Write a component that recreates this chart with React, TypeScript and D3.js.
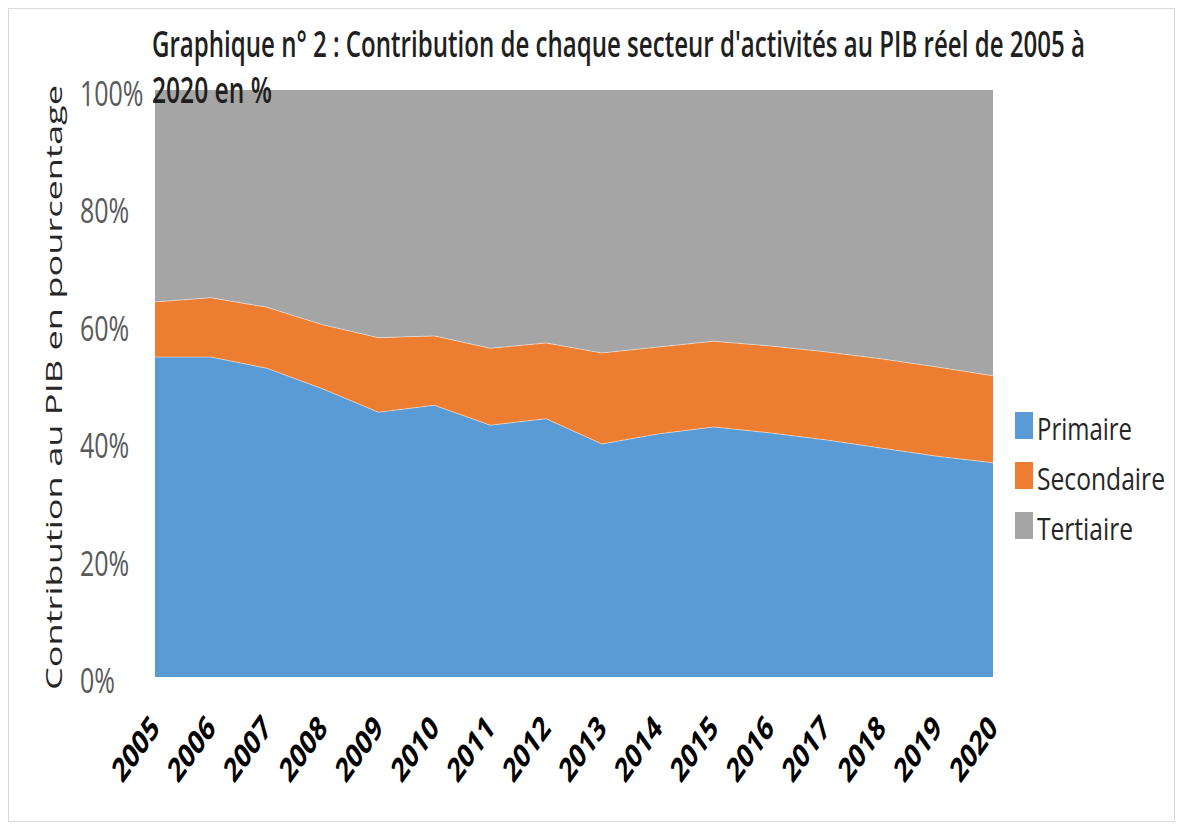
import * as d3 from "d3";
import React from 'react'

// values (%, stacked to 100)
const years = [2005, 2006, 2007, 2008, 2009, 2010, 2011, 2012, 2013, 2014, 2015, 2016, 2017, 2018, 2019, 2020]
const primaire = [54.5, 54.5, 52.6, 49.1, 45.1, 46.3, 42.9, 44.0, 39.7, 41.4, 42.6, 41.6, 40.4, 39.0, 37.6, 36.5]
const secondaire = [9.4, 10.1, 10.4, 10.9, 12.7, 11.8, 13.1, 12.9, 15.5, 14.8, 14.6, 14.8, 15.0, 15.2, 15.2, 14.8]
const tertiaire = primaire.map((p, i) => +(100 - p - secondaire[i]).toFixed(1))
const sectors = ['Primaire', 'Secondaire', 'Tertiaire']
const colors = ['#5B9BD5', '#ED7D31', '#A5A5A5']
const yTicks = [0, 20, 40, 60, 80, 100]

const titleLine1 = "Graphique n° 2 : Contribution de chaque secteur d'activités au PIB réel de 2005 à"
const titleLine2 = "2020 en %"
const yTitle = "Contribution au PIB en pourcentage"

const W = 1182
const H = 827
const K = 1.4 // the picture is stretched vertically, so text is too
const FONT = "'Open Sans', 'Noto Sans', sans-serif"

export default function App() {
  const rows = years.map((y, i) => ({ year: y, Primaire: primaire[i], Secondaire: secondaire[i], Tertiaire: tertiaire[i] }))
  const stack = d3.stack<any>().keys(sectors)
  const series = stack(rows)

  const x = d3.scaleLinear().domain([2005, 2020]).range([155, 993])
  const y = d3.scaleLinear().domain([0, 100]).range([677, 90])

  const area = d3.area<any>()
    .x((d) => x(d.data.year))
    .y0((d) => y(d[0]))
    .y1((d) => y(d[1]))

  const topLine = d3.line<any>()
    .x((d) => x(d.data.year))
    .y((d) => y(d[1]))

  return (
    <svg width={W} height={H} style={{ display: 'block', position: 'absolute', left: 0, top: 0 }}>
      <rect x={0} y={0} width={W} height={H} fill="#fff" />
      <rect x={8.5} y={8.5} width={W - 16} height={H - 14} fill="none" stroke="#d9d9d9" />

      {series.map((s, i) => (
        <path key={s.key} d={area(s) || ''} fill={colors[i]} />
      ))}
      {series.slice(0, 2).map((s) => (
        <path key={'l' + s.key} d={topLine(s) || ''} fill="none" stroke="#fff" strokeOpacity={0.45} strokeWidth={1} />
      ))}

      {/* title */}
      <text transform={`translate(152,57) scale(1,${K})`} fontFamily={FONT} fontSize={26} fontWeight={600} fill="#1f1f1f"
        textLength={933} lengthAdjust="spacingAndGlyphs">{titleLine1}</text>
      <text transform={`translate(152,103) scale(1,${K})`} fontFamily={FONT} fontSize={26} fontWeight={600} fill="#1f1f1f"
        textLength={120} lengthAdjust="spacingAndGlyphs">{titleLine2}</text>

      {/* y tick labels */}
      {yTicks.map((t) => (
        <text key={t} transform={`translate(80,${y(t) + 16}) scale(1,${K})`} fontFamily={FONT} fontSize={25}
          fill="#595959">{t + '%'}</text>
      ))}

      {/* y title */}
      <text transform={`translate(62,${(690 + 85) / 2}) scale(1,${K}) rotate(-90)`} fontFamily={FONT} fontSize={21}
        fill="#262626" textAnchor="middle" textLength={605 / K} lengthAdjust="spacingAndGlyphs">{yTitle}</text>

      {/* x tick labels */}
      {years.map((yr) => (
        <text key={yr} transform={`translate(${x(yr) + 6},730) scale(1,${K}) rotate(-45)`} fontFamily={FONT}
          fontSize={24} fontWeight="bold" fill="#000" textAnchor="end">{String(yr)}</text>
      ))}

      {/* legend */}
      {sectors.map((s, i) => (
        <g key={s} transform={`translate(1015,${412 + i * 50})`}>
          <rect x={0} y={0} width={18} height={27} fill={colors[i]} />
          <text transform={`translate(22,28) scale(1,${K})`} fontFamily={FONT} fontSize={22} fill="#262626"
            textLength={[95, 128, 96][i]} lengthAdjust="spacingAndGlyphs">{s}</text>
        </g>
      ))}
    </svg>
  )
}
